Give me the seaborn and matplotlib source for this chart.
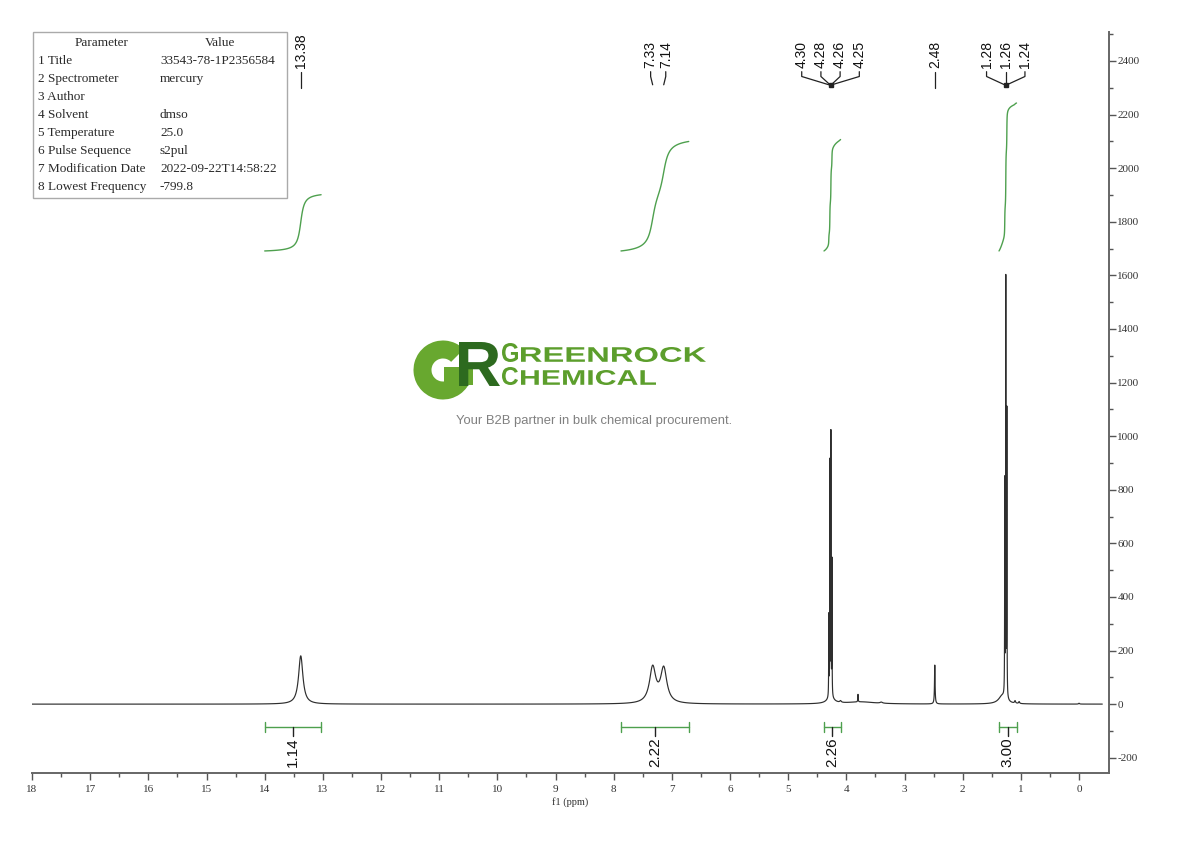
import numpy as np
import pandas as pd
import matplotlib
matplotlib.use("Agg")
import matplotlib.pyplot as plt
import seaborn as sns
from matplotlib.ticker import MultipleLocator, FixedLocator
from matplotlib.patches import Rectangle, Wedge, PathPatch
from matplotlib.textpath import TextPath
from matplotlib.font_manager import FontProperties
from matplotlib.transforms import Affine2D

# ---------------- data ----------------
peak_ppm    = [13.38, 7.33, 7.14, 4.302, 4.284, 4.266, 4.248, 4.27, 4.10, 3.80, 3.75, 3.40,
               2.48, 1.277, 1.259, 1.241, 1.32, 1.10, 1.03, 0.00]
peak_height = [180, 132, 128, 300, 870, 975, 505, 20, 6, 28, 8, 4,
               145, 795, 1550, 1065, 30, 9, 7, 3]
peak_fwhm   = [0.09, 0.13, 0.13, 0.005, 0.005, 0.005, 0.005, 0.15, 0.03, 0.008, 0.6, 0.05,
               0.012, 0.005, 0.005, 0.005, 0.15, 0.02, 0.02, 0.02]

label_groups = [[13.38], [7.33, 7.14], [4.30, 4.28, 4.26, 4.25], [2.48], [1.28, 1.26, 1.24]]

integ_start = [14.00, 7.875, 4.385, 1.376]
integ_end   = [13.03, 6.71, 4.10, 1.075]
integ_value = [1.14, 2.22, 2.26, 3.00]

param_names  = ["1 Title", "2 Spectrometer", "3 Author", "4 Solvent", "5 Temperature",
                "6 Pulse Sequence", "7 Modification Date", "8 Lowest Frequency"]
param_values = ["33543-78-1P2356584", "mercury", "", "dmso", "25.0", "s2pul",
                "2022-09-22T14:58:22", "-799.8"]

x_major = list(range(0, 19))
y_major = list(range(-200, 2401, 200))

# ---------------- style ----------------
sns.set_theme(style="white")
plt.rcParams["font.family"] = ["Liberation Serif", "DejaVu Serif"]
plt.rcParams["path.simplify"] = False
plt.rcParams["axes.unicode_minus"] = False

W, H = 1190, 841
fig = plt.figure(figsize=(W / 100, H / 100), dpi=100)
fig.patch.set_facecolor("white")
ax = fig.add_axes([32 / W, 1 - 773 / H, (1109 - 32) / W, (773 - 32) / H])
ax.set_facecolor("white")

# spectrum from the peak list (Lorentzian line shapes)
ppm = np.arange(-0.4, 18.0001, 0.0005)[::-1]
P = np.array(peak_ppm)[None, :]
Hh = np.array(peak_height)[None, :]
Wd = np.array(peak_fwhm)[None, :] / 2
inten = (Hh / (1 + ((ppm[:, None] - P) / Wd) ** 2)).sum(axis=1)
df = pd.DataFrame({"ppm": ppm, "intensity": inten})
sns.lineplot(data=df, x="ppm", y="intensity", estimator=None, sort=False,
             color="#2e2e2e", linewidth=0.85, ax=ax)

ax.set_xlim(18, -0.515)
ax.set_ylim(-257, 2508)

# integrals
green = "#4ea04e"
base_level = 1691
unit = 184
for s, e, v in zip(integ_start, integ_end, integ_value):
    m = (df["ppm"] <= s) & (df["ppm"] >= e)
    xs = df["ppm"][m].to_numpy()
    ys = df["intensity"][m].to_numpy()
    cum = np.concatenate([[0], np.cumsum((ys[1:] + ys[:-1]) / 2 * np.abs(np.diff(xs)))])
    cum = cum / cum[-1]
    ax.plot(xs, base_level + cum * v * unit, color=green, linewidth=1.0)
    # bracket
    yb = -86
    ax.plot([s, e], [yb, yb], color=green, linewidth=1.0)
    ax.plot([s, s], [yb - 18, yb + 18], color=green, linewidth=1.0)
    ax.plot([e, e], [yb - 18, yb + 18], color=green, linewidth=1.0)
    c = (s + e) / 2
    ax.plot([c, c], [yb, yb - 34], color="#222222", linewidth=1.0)
    ax.text(c, yb - 38, f"{v:.2f}", rotation=90, ha="center", va="top",
            fontsize=11, family=["Liberation Sans", "DejaVu Sans"], color="#111111")

# peak labels
for grp in label_groups:
    n = len(grp)
    cen = float(np.mean(grp))
    sp = 0.33 if n > 2 else 0.26
    for i, v in enumerate(grp):
        lx = cen + ((n - 1) / 2 - i) * sp if n > 1 else v
        ax.text(lx, 2372, f"{v:.2f}", rotation=90, ha="center", va="bottom",
                fontsize=10, family=["Liberation Sans", "DejaVu Sans"], color="#111111")
        if n == 1:
            ax.plot([v, v], [2360, 2300], color="#222222", linewidth=0.9)
        else:
            ax.plot([lx, lx, v], [2360, 2342, 2311], color="#222222", linewidth=0.9)
    if n >= 3:
        ax.plot([cen], [2311], marker="s", markersize=2.5, color="#222222")

# axes styling
for side in ["left", "top"]:
    ax.spines[side].set_visible(False)
for side in ["right", "bottom"]:
    ax.spines[side].set_color("#666666")
    ax.spines[side].set_linewidth(1.4)
ax.yaxis.tick_right()
ax.xaxis.set_major_locator(FixedLocator(x_major))
ax.xaxis.set_minor_locator(FixedLocator([v + 0.5 for v in x_major[:-1]]))
ax.yaxis.set_major_locator(FixedLocator(y_major))
ax.yaxis.set_minor_locator(MultipleLocator(100))
ax.tick_params(axis="both", which="major", direction="out", length=5, width=1,
               color="#555555", labelsize=8, labelcolor="#333333")
ax.tick_params(axis="both", which="minor", direction="out", length=3, width=1,
               color="#555555")
ax.tick_params(axis="y", which="both", left=False, right=True, pad=1)
ax.tick_params(axis="x", which="both", bottom=True, top=False, pad=4)
ax.set_xlabel("f1 (ppm)", fontsize=7.5, color="#333333", labelpad=2)
ax.set_ylabel("")
ax.grid(False)

# parameter table
fig.add_artist(Rectangle((33 / W, 1 - 198 / H), 254 / W, 166 / H, transform=fig.transFigure,
                         facecolor="white", edgecolor="#aaaaaa", linewidth=1.0, zorder=5))
tfont = dict(fontsize=9.5, color="#2a2a2a", va="center", zorder=6)
fig.text(102 / W, 1 - 43 / H, "Parameter", ha="center", **tfont)
fig.text(220 / W, 1 - 43 / H, "Value", ha="center", **tfont)
for i, (nm, vl) in enumerate(zip(param_names, param_values)):
    yy = 1 - (61 + 18 * i) / H
    fig.text(38 / W, yy, nm, ha="left", **tfont)
    fig.text(160 / W, yy, vl, ha="left", **tfont)

# watermark logo
def fit_text(s, left, top, right, bottom, color, family="Liberation Sans", weight="bold"):
    tp = TextPath((0, 0), s, size=10, prop=FontProperties(family=family, weight=weight))
    ext = tp.get_extents()
    sx = (right - left) / ext.width / 100
    sy = (bottom - top) / ext.height / 100
    tr = (Affine2D().translate(-ext.x0, -ext.y0).scale(sx, sy)
          .translate(left / 100, (H - bottom) / 100) + fig.dpi_scale_trans)
    fig.add_artist(PathPatch(tp, transform=tr, facecolor=color, edgecolor="none", zorder=1))

gcol = "#68a82f"
fig.add_artist(Wedge((443 / 100, (H - 370) / 100), 0.295, 45, 365, width=0.18,
                     transform=fig.dpi_scale_trans, facecolor=gcol, edgecolor="none", zorder=1))
fig.add_artist(Rectangle((444 / 100, (H - 385) / 100), 0.29, 0.18,
                         transform=fig.dpi_scale_trans, facecolor=gcol, edgecolor="none", zorder=1))
fit_text("R", 459, 342, 500, 386, "#2d6a1f")
tcol = "#5c9e2c"
fit_text("G", 502, 343, 518, 362, tcol)
fit_text("REENROCK", 521, 347, 706, 362, tcol)
fit_text("C", 502, 367, 518, 385, tcol)
fit_text("HEMICAL", 521, 370, 656, 385, tcol)
fig.text(594 / W, 1 - 421 / H, "Your B2B partner in bulk chemical procurement.",
         ha="center", va="center", fontsize=9.4, color="#808080",
         family=["Liberation Sans", "DejaVu Sans"])

fig.savefig("out.png", dpi=100, facecolor="white")
